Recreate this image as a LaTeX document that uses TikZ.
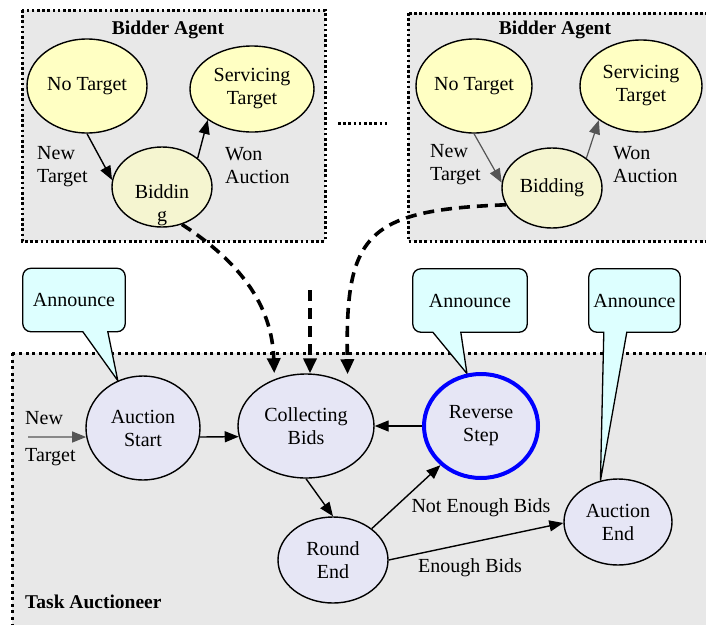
\documentclass[tikz,border=0pt]{standalone}
\usepackage{fontspec}
\setmainfont{Liberation Serif}
\usetikzlibrary{shapes.geometric,arrows.meta,calc}
\pgfdeclarelayer{back}
\pgfdeclarelayer{mid}
\pgfsetlayers{back,mid,main}
\definecolor{boxgray}{RGB}{232,232,232}
\definecolor{yel}{RGB}{255,255,195}
\definecolor{yelb}{RGB}{245,245,208}
\definecolor{lav}{RGB}{230,230,245}
\definecolor{cyanl}{RGB}{221,255,255}
\definecolor{arrgray}{RGB}{85,85,85}
\begin{document}
\begin{tikzpicture}[x=1pt,y=-1pt,
  every node/.style={font=\fontsize{20}{23}\selectfont},
  stbase/.style={ellipse, draw, line width=1.4pt, inner sep=0pt, align=center},
  yst/.style={stbase, fill=yel},
  ybst/.style={stbase, fill=yelb},
  lst/.style={stbase, fill=lav},
  title/.style={font=\fontsize{19.5}{23}\selectfont\bfseries},
  lbl/.style={align=left, inner sep=0pt},
  dotbox/.style={line width=3pt, dash pattern=on 2.6pt off 2.6pt},
  dotboxb/.style={line width=3pt, dash pattern=on 3pt off 3.6pt},
  arr/.style={line width=1.4pt, -{Triangle[length=14pt,width=11pt]}},
  garr/.style={line width=1.2pt, draw=arrgray, -{Triangle[length=14pt,width=11pt]}, arrgray},
  darr/.style={line width=3.6pt, dash pattern=on 11pt off 7pt, -{Triangle[length=15pt,width=13pt]}},
  anntext/.style={minimum width=#1, minimum height=63pt, inner sep=0pt},
  callout/.style={draw, line width=1.3pt, fill=cyanl}
]
\useasboundingbox (0,0) rectangle (706,624);
\clip (0,0) rectangle (706,624);

% background boxes
\begin{pgfonlayer}{back}
\draw[dotbox, fill=boxgray] (22,10) rectangle (325,241);
\draw[dotbox, fill=boxgray] (408,13) rectangle (720,241);
\draw[dotboxb, fill=boxgray] (12,353) rectangle (720,640);
\draw[dotbox] (338,123) -- (390,123);
\end{pgfonlayer}

% left bidder agent
\node[title] (ba1) at (168,30) {Bidder Agent};
\node[yst, minimum width=120pt, minimum height=94pt] (nt1) at (87,86) {No Target};
\node[yst, minimum width=124pt, minimum height=86pt] (st1) at (252,89) {Servicing\\Target};
\node[ybst, minimum width=100pt, minimum height=80pt] (bd1) at (162,187) {};
\node[align=center, inner sep=0pt] (bd1t) at (162,205) {Biddin\\g};
\draw[arr] (nt1.south) -- (bd1.172);
\draw[arr] (bd1.39) -- (st1.215);
\node[lbl, anchor=west] (lnt1) at (37,167) {New\\Target};
\node[lbl, anchor=west] (lwa1) at (225,166) {Won\\Auction};

% right bidder agent
\node[title] (ba2) at (555,30) {Bidder Agent};
\node[yst, minimum width=116pt, minimum height=94pt] (nt2) at (474,86) {No Target};
\node[yst, minimum width=122pt, minimum height=92pt] (st2) at (641,86) {Servicing\\Target};
\node[ybst, minimum width=100pt, minimum height=80pt] (bd2) at (552,188) {Bidding};
\draw[garr] (nt2.south) -- (bd2.174);
\draw[garr] (bd2.41) -- (st2.219);
\node[lbl, anchor=west] (lnt2) at (430,165) {New\\Target};
\node[lbl, anchor=west] (lwa2) at (613,165) {Won\\Auction};

% task auctioneer
\node[title, anchor=west, inner sep=0pt] (ta) at (25,602) {Task Auctioneer};
\node[lst, minimum width=114pt, minimum height=104pt] (as) at (143,428) {Auction\\Start};
\node[lst, minimum width=136pt, minimum height=104pt] (cb) at (306,426) {Collecting\\Bids};
\node[lst, minimum width=114pt, minimum height=104pt, draw=blue, line width=4pt] (rs) at (481,426) {Reverse\\Step};
\node[lst, minimum width=110pt, minimum height=86pt] (re) at (333,560) {Round\\End};
\node[lst, minimum width=108pt, minimum height=86pt] (ae) at (618,522) {Auction\\End};

\coordinate (nt0) at (28,437);
\node[lbl, anchor=west] (lnt0) at (25,439) {New\\[14pt]Target};
\draw[garr] (nt0) -- (as.189);
\draw[arr] (as.351) -- (cb.189);
\draw[arr] (cb.south) -- (re.north);
\draw[arr] (rs.west) -- (cb.east);
\draw[arr] (re.39) -- (rs.224);
\draw[arr] (re.east) -- (ae.181);
\node (lneb) at (481,508) {Not Enough Bids};
\node (leb) at (470,568) {Enough Bids};

% dashed bid arrows
\coordinate (dm) at (310,290);
\draw[darr, shorten >=6pt] (bd1.-62) .. controls (240,262) and (272,305) .. (cb.124);
\draw[darr] (dm) -- (dm |- cb.north);
\draw[darr, shorten >=10pt] (bd2.200) .. controls (365,210) and (345,235) .. (cb.45);

% announce callouts
\node[anntext=102pt] (an1) at (74,300) {Announce};
\node[anntext=114pt] (an2) at (470,300.5) {Announce};
\node[anntext=91pt] (an3) at (634.5,300.5) {Announce};
\begin{pgfonlayer}{mid}
\draw[callout] (an1.north) [rounded corners=8pt] -- (an1.north west) -- (an1.south west)
  [sharp corners] -- ([xshift=60pt]an1.south west) -- (as.118) -- ([xshift=85pt]an1.south west)
  [rounded corners=8pt] -- (an1.south east) -- (an1.north east) -- cycle;
\draw[callout] (an2.north) [rounded corners=8pt] -- (an2.north west) -- (an2.south west)
  [sharp corners] -- ([xshift=20pt]an2.south west) -- (rs.105) -- ([xshift=48pt]an2.south west)
  [rounded corners=8pt] -- (an2.south east) -- (an2.north east) -- cycle;
\draw[callout] (an3.north) [rounded corners=8pt] -- (an3.north west) -- (an3.south west)
  [sharp corners] -- ([xshift=15pt]an3.south west) -- (ae.113) -- ([xshift=38pt]an3.south west)
  [rounded corners=8pt] -- (an3.south east) -- (an3.north east) -- cycle;
\end{pgfonlayer}
\end{tikzpicture}
\end{document}
